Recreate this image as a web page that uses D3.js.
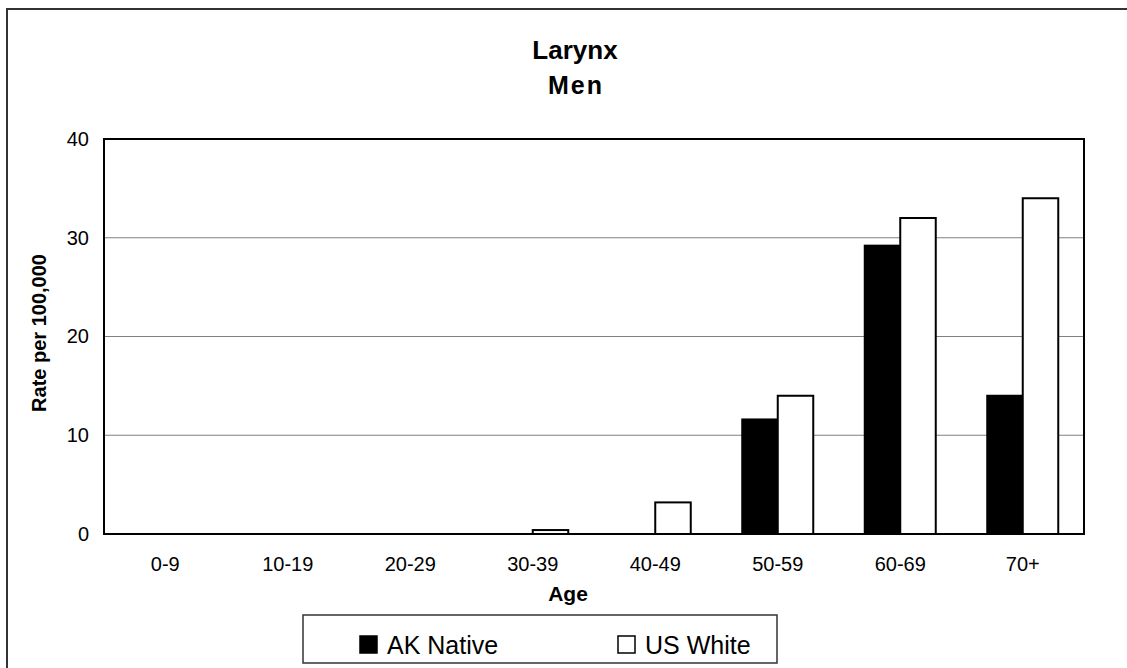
<!DOCTYPE html>
<html>
<head>
<meta charset="utf-8">
<script src="https://cdn.jsdelivr.net/npm/d3@7"></script>
<style>
  html, body { margin: 0; padding: 0; background: #fff; }
  svg { display: block; }
  text { font-family: "Liberation Sans", Arial, sans-serif; fill: #000; }
</style>
</head>
<body>
<div id="chart"></div>
<script>
const categories = ["0-9", "10-19", "20-29", "30-39", "40-49", "50-59", "60-69", "70+"];
const seriesNames = ["AK Native", "US White"];
const akNative = [0, 0, 0, 0, 0, 11.6, 29.2, 14.0];
const usWhite = [0, 0, 0, 0.4, 3.2, 14.0, 32.0, 34.0];
const yTicks = [0, 10, 20, 30, 40];
const seriesFill = ["#000000", "#ffffff"];

const W = 1127, H = 668;
const plot = { left: 104, right: 1084, top: 139, bottom: 534 };

const svg = d3.select("#chart").append("svg").attr("width", W).attr("height", H);
svg.append("rect").attr("width", W).attr("height", H).attr("fill", "#fff");

// outer frame
svg.append("rect").attr("x", 7).attr("y", 9).attr("width", 1130).attr("height", 700)
  .attr("fill", "none").attr("stroke", "#333").attr("stroke-width", 2);

const x0 = d3.scaleBand().domain(categories).range([plot.left, plot.right]).padding(0);
const barW = 35.5;
const x1 = d3.scaleBand().domain(seriesNames)
  .range([x0.bandwidth() / 2 - barW, x0.bandwidth() / 2 + barW]).padding(0);
const y = d3.scaleLinear().domain([0, 40]).range([plot.bottom, plot.top]);

// gridlines
svg.append("g").selectAll("line").data(yTicks.filter(t => t > 0 && t < 40)).join("line")
  .attr("x1", plot.left).attr("x2", plot.right)
  .attr("y1", d => y(d)).attr("y2", d => y(d))
  .attr("stroke", "#808080").attr("stroke-width", 1.2);

// y axis labels
const yAxis = d3.axisLeft(y).tickValues(yTicks).tickSize(0).tickPadding(15);
const gy = svg.append("g").attr("transform", `translate(${plot.left},0)`).call(yAxis);
gy.select(".domain").remove();
gy.selectAll("text").style("font-size", "20px").style("font-family", "Liberation Sans, Arial, sans-serif").attr("fill", "#000");

// bars
const rows = categories.map((c, i) => ({ cat: c, vals: [akNative[i], usWhite[i]] }));
const g = svg.append("g");
rows.forEach(r => {
  r.vals.forEach((v, j) => {
    if (v <= 0) return;
    g.append("rect")
      .attr("x", x0(r.cat) + x1(seriesNames[j]))
      .attr("y", y(v))
      .attr("width", x1.bandwidth())
      .attr("height", y(0) - y(v))
      .attr("fill", seriesFill[j])
      .attr("stroke", "#000").attr("stroke-width", 2);
  });
});

// plot frame
svg.append("rect").attr("x", plot.left).attr("y", plot.top)
  .attr("width", plot.right - plot.left).attr("height", plot.bottom - plot.top)
  .attr("fill", "none").attr("stroke", "#000").attr("stroke-width", 2);

// x axis labels
const xAxis = d3.axisBottom(x0).tickSize(0).tickPadding(23);
const gx = svg.append("g").attr("transform", `translate(0,${plot.bottom})`).call(xAxis);
gx.select(".domain").remove();
gx.selectAll("text").style("font-size", "20px").style("font-family", "Liberation Sans, Arial, sans-serif").attr("fill", "#000");

// titles
svg.append("text").attr("x", 575).attr("y", 59).attr("text-anchor", "middle")
  .style("font-size", "26px").style("font-weight", "bold").text("Larynx");
svg.append("text").attr("x", 576).attr("y", 94).attr("text-anchor", "middle")
  .style("font-size", "25px").style("font-weight", "bold").style("letter-spacing", "2px").text("Men");

svg.append("text").attr("x", 568).attr("y", 601).attr("text-anchor", "middle")
  .style("font-size", "21px").style("font-weight", "bold").text("Age");

svg.append("text").attr("transform", `translate(46,333) rotate(-90)`).attr("text-anchor", "middle")
  .style("font-size", "20px").style("font-weight", "bold").text("Rate per 100,000");

// legend
const lg = svg.append("g");
lg.append("rect").attr("x", 303).attr("y", 615).attr("width", 474).attr("height", 48)
  .attr("fill", "#fff").attr("stroke", "#333").attr("stroke-width", 1.5);
const legendPos = [{ sx: 360, tx: 387 }, { sx: 618, tx: 645 }];
seriesNames.forEach((s, i) => {
  lg.append("rect").attr("x", legendPos[i].sx).attr("y", 636).attr("width", 17).attr("height", 17)
    .attr("fill", seriesFill[i]).attr("stroke", "#000").attr("stroke-width", 1.5);
  lg.append("text").attr("x", legendPos[i].tx).attr("y", 654)
    .style("font-size", "25px").text(s);
});
</script>
</body>
</html>
